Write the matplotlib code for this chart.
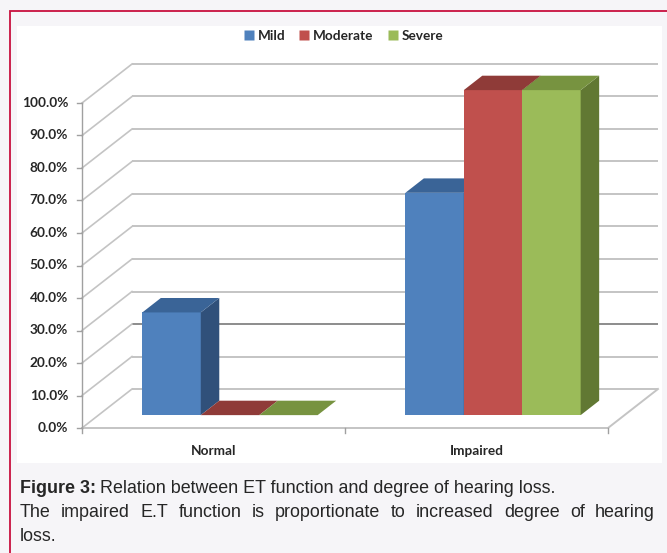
import matplotlib
matplotlib.use("Agg")
import matplotlib.pyplot as plt
from matplotlib.patches import Polygon, Rectangle
from matplotlib.lines import Line2D

# ---- data ----
categories = ["Normal", "Impaired"]
series = ["Mild", "Moderate", "Severe"]
mild = [31.6, 68.4]
moderate = [0.0, 100.0]
severe = [0.0, 100.0]
y_ticks = [0, 10, 20, 30, 40, 50, 60, 70, 80, 90, 100]
y_tick_labels = [f"{t:.1f}%" for t in y_ticks]

front_colors = ["#4F81BD", "#C0504D", "#9BBB59"]
top_colors = ["#3A6497", "#8F3B38", "#779340"]
side_colors = ["#30507A", "#7A302E", "#617833"]

W, H, DPI = 667, 553, 100
fig = plt.figure(figsize=(W / DPI, H / DPI), dpi=DPI)
fig.patch.set_facecolor("#F6F5F8")


def fx(px):
    return px / W


def fy(py):
    return 1 - py / H


# white chart area and red frame
fig.patches.append(Rectangle((fx(17), fy(463)), fx(662) - fx(17), fy(26) - fy(463),
                             transform=fig.transFigure, facecolor="white",
                             edgecolor="none", zorder=-5))
fig.patches.append(Rectangle((fx(10), fy(560)), fx(700) - fx(10), fy(11) - fy(560),
                             transform=fig.transFigure, facecolor="none",
                             edgecolor="#C8103E", linewidth=1.3, zorder=5))

ax = fig.add_axes([0, 0, 1, 1])
ax.set_facecolor("none")
ax.axis("off")
ax.set_zorder(1)

# data coordinates: x in category units, y in percent
x0_px, cat_px = 82, 263
y0_px, pct_px = 428, 3.25
ax.set_xlim(-x0_px / cat_px, (W - x0_px) / cat_px)
ax.set_ylim(-(H - y0_px) / pct_px, y0_px / pct_px)

# oblique depth offset of the whole floor
DX, DY = 50 / cat_px, 39 / pct_px
ncat = len(categories)
ymax = y_ticks[-1]

grid_c = "#C4C4C4"
# back wall gridlines and side wall diagonals
for t in y_ticks:
    col = "#8C8C8C" if t == 20 else grid_c
    ax.plot([DX, ncat + DX], [t + DY, t + DY], color=col, lw=1.4,
            solid_capstyle="butt", zorder=1)
    ax.plot([0, DX], [t, t + DY], color=grid_c, lw=1.2, zorder=1)
# floor outline
ax.plot([0, ncat, ncat + DX], [0, 0, DY], color=grid_c, lw=1.4, zorder=1)
# vertical axis and ticks
ax.plot([0, 0], [0, ymax], color="#A0A0A0", lw=1.0, zorder=2)
for t in y_ticks:
    ax.plot([-5 / cat_px, 0], [t, t], color="#A0A0A0", lw=1.0, zorder=2)
for c in range(ncat + 1):
    ax.plot([c, c], [0, -5 / pct_px], color="#A0A0A0", lw=1.0, zorder=2)

# tick labels
tick_font = dict(family=["Lato", "DejaVu Sans"], fontweight="bold", fontsize=9.8,
                 color="#262626")
for t, lab in zip(y_ticks, y_tick_labels):
    ax.text(-14 / cat_px, t, lab, ha="right", va="center", **tick_font)
for i, cat in enumerate(categories):
    ax.text(i + 0.5, -23 / pct_px, cat, ha="center", va="center", **tick_font)

# 3D-looking bars
t_front, t_back = 0.33, 0.70
gap = 1.5
bw = 1.0 / (len(series) + gap)
values = [mild, moderate, severe]
for ci in range(ncat):
    start = ci + 0.5 - bw * len(series) / 2
    for si in range(len(series)):
        v = values[si][ci]
        xl = start + si * bw
        xr = xl + bw
        fx0, fy0 = t_front * DX, t_front * DY
        bx0, by0 = t_back * DX, t_back * DY
        z = 3 + si + ci * 10
        if v > 0:
            ax.add_patch(Polygon([(xl + fx0, fy0), (xr + fx0, fy0),
                                  (xr + fx0, v + fy0), (xl + fx0, v + fy0)],
                                 closed=True, facecolor=front_colors[si],
                                 edgecolor="none", zorder=z))
            ax.add_patch(Polygon([(xr + fx0, fy0), (xr + bx0, by0),
                                  (xr + bx0, v + by0), (xr + fx0, v + fy0)],
                                 closed=True, facecolor=side_colors[si],
                                 edgecolor="none", zorder=z))
        ax.add_patch(Polygon([(xl + fx0, v + fy0), (xr + fx0, v + fy0),
                              (xr + bx0, v + by0), (xl + bx0, v + by0)],
                             closed=True, facecolor=top_colors[si],
                             edgecolor="none", zorder=z))

# legend
handles = [Line2D([], [], marker="s", linestyle="none", markersize=6.5,
                  markerfacecolor=c, markeredgecolor="none") for c in front_colors]
leg = fig.legend(handles, series, loc="center", bbox_to_anchor=(fx(344), fy(36)),
                 ncol=3, frameon=False, handlelength=0.6, handletextpad=0.35,
                 columnspacing=1.1, prop=dict(family="Lato", weight="bold", size=9.8))
for txt in leg.get_texts():
    txt.set_color("#262626")

# caption
cap_font = ["Liberation Sans", "DejaVu Sans"]
cap_size = 12.9
cap_color = "#262626"
fig.canvas.draw()
renderer = fig.canvas.get_renderer()

t1 = fig.text(fx(20), fy(493), "Figure 3:", fontsize=cap_size, family=cap_font,
              fontweight="bold", color=cap_color, va="baseline", ha="left")
bb = t1.get_window_extent(renderer)
fig.text(bb.x1 / W + fx(4), fy(493),
         "Relation between ET function and degree of hearing loss.",
         fontsize=cap_size, family=cap_font, color=cap_color, va="baseline", ha="left")

# justified second line
words = "The impaired E.T function is proportionate to increased degree of hearing".split()
left, right = 20, 655
widths = []
arts = []
for w in words:
    a = fig.text(0, fy(517), w, fontsize=cap_size, family=cap_font, color=cap_color,
                 va="baseline", ha="left")
    arts.append(a)
    widths.append(a.get_window_extent(renderer).width)
space = (right - left - sum(widths)) / (len(words) - 1)
xpos = left
for a, wd in zip(arts, widths):
    a.set_x(fx(xpos))
    xpos += wd + space

fig.text(fx(20), fy(541), "loss.", fontsize=cap_size, family=cap_font,
         color=cap_color, va="baseline", ha="left")

fig.savefig("out.png", dpi=DPI, facecolor=fig.get_facecolor())
